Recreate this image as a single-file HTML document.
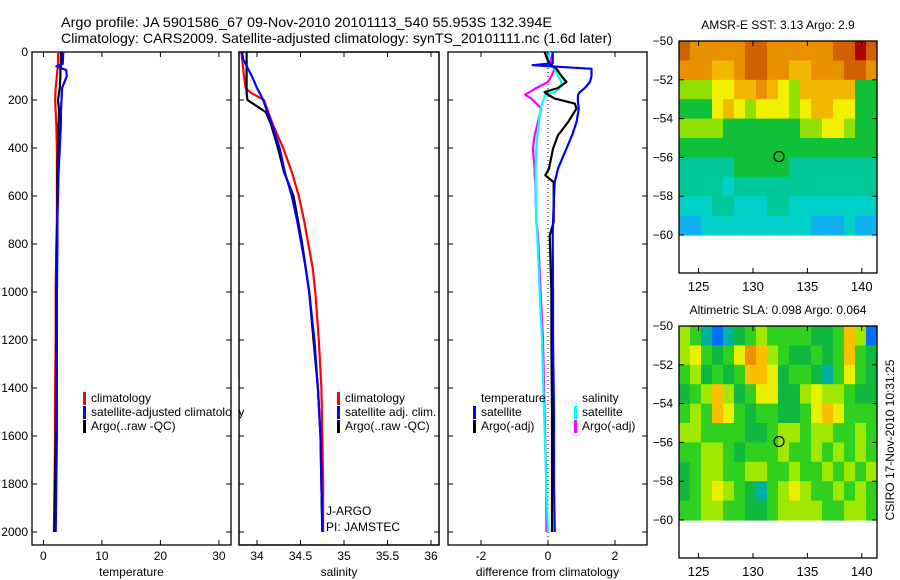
<!DOCTYPE html>
<html><head><meta charset="utf-8"><style>
body{margin:0;background:#fff}
svg{display:block;font-family:"Liberation Sans",sans-serif}
</style></head><body>
<svg id="c" width="900" height="580" viewBox="0 0 900 580">
<text x="61" y="27" font-size="14" textLength="491" lengthAdjust="spacingAndGlyphs">Argo profile: JA 5901586_67 09-Nov-2010 20101113_540 55.953S 132.394E</text>
<text x="61" y="43" font-size="14" textLength="551" lengthAdjust="spacingAndGlyphs">Climatology: CARS2009. Satellite-adjusted climatology: synTS_20101111.nc (1.6d later)</text>
<g id="g"></g>
</svg>
<script>
// ---- data ----
const tDepth=[0,50,60,75,100,150,200,250,300,400,500,600,700,800,1000,1200,1400,1600,1800,2000];
const tClim=[2.5,2.5,2.5,2.4,2.3,2.1,2.0,2.1,2.2,2.3,2.3,2.3,2.3,2.2,2.1,2.1,2.0,2.0,1.9,1.8];
const tSat=[3.4,3.3,2.2,3.9,4.0,3.2,3.1,3.0,3.0,2.8,2.6,2.5,2.4,2.4,2.3,2.3,2.3,2.3,2.2,2.1];
const tArgo=[3.0,3.0,3.0,2.9,2.9,2.8,2.5,2.7,2.6,2.5,2.4,2.4,2.4,2.3,2.2,2.2,2.2,2.1,2.0,1.9];
const sDepth=[0,30,100,150,170,200,250,300,400,500,600,700,800,900,1000,1200,1400,1600,1800,2000];
const sClim=[33.82,33.83,33.85,33.87,33.93,34.08,34.13,34.18,34.30,34.40,34.48,34.54,34.59,34.64,34.67,34.71,34.74,34.75,34.76,34.76];
const sSat=[33.83,33.84,33.94,34.00,34.03,34.07,34.12,34.17,34.26,34.32,34.40,34.46,34.51,34.56,34.60,34.66,34.70,34.73,34.74,34.75];
const sArgo=[33.88,33.88,33.88,33.88,33.88,33.89,34.10,34.16,34.24,34.31,34.42,34.47,34.52,34.56,34.60,34.65,34.70,34.73,34.74,34.75];
const dDepth=[0,47,55,70,100,125,150,167,178,194,215,236,292,347,403,486,514,542,708,764,1000,1200,1500,1800,2000];
const dTSat=[0.14,0.14,-0.46,1.3,1.3,1.25,1.1,0.95,0.9,0.89,0.9,0.92,0.85,0.72,0.55,0.3,0.25,0.2,0.15,0.14,0.15,0.15,0.18,0.18,0.2];
const dTArgo=[-0.1,0.03,0.1,0.25,0.4,0.55,0.3,-0.1,0.0,0.2,0.8,0.85,0.6,0.3,0.15,0.03,-0.08,0.17,0.17,0.05,0.1,0.1,0.12,0.12,0.12];
const dSArgo=[0.15,0.05,0.1,0.2,0.1,0.0,-0.35,-0.55,-0.68,-0.5,-0.35,-0.2,-0.3,-0.4,-0.45,-0.4,-0.4,-0.38,-0.35,-0.3,-0.22,-0.15,-0.1,-0.05,-0.05];
const dSSat=[0.05,-0.02,0.05,0.2,0.3,0.4,0.35,0.2,-0.08,-0.12,-0.18,-0.22,-0.27,-0.32,-0.35,-0.37,-0.37,-0.37,-0.35,-0.32,-0.25,-0.18,-0.12,-0.05,0.0];
const depthTicks=[0,200,400,600,800,1000,1200,1400,1600,1800,2000];
const tTicks=[0,10,20,30];
const sTicks=[34,34.5,35,35.5,36];
const dTicks=[-2,0,2];
const lonTicks=[125,130,135,140];
const latTicks=[-50,-52,-54,-56,-58,-60];
const sstGrid=[
[8,7,7,7,7,7,8,8,7,7,7,7,7,7,8,8,9,8],
[7,7,7,6,6,7,8,8,7,7,6,6,7,7,7,8,8,7],
[4,4,4,5,5,6,6,7,6,5,4,6,6,6,6,6,3,3],
[3,3,3,5,6,5,4,5,5,5,4,5,6,6,5,5,3,3],
[4,4,4,4,3,3,3,3,3,3,3,4,4,5,5,4,3,3],
[3,3,3,3,3,3,3,3,3,3,3,3,3,3,3,3,3,3],
[2,2,2,2,2,3,3,3,3,3,2,2,2,2,2,2,2,2],
[2,2,2,2,1,2,2,2,2,2,2,2,2,2,2,2,2,2],
[1,1,1,2,2,1,1,1,2,2,1,1,1,1,1,1,1,1],
[0,0,1,1,1,1,1,1,1,1,1,1,0,0,0,1,0,0]];
const slaGrid=[
[3,2,0,-1,0,1,2,3,2,2,2,2,1,1,2,5,3,-1],
[3,4,2,1,2,4,6,5,3,2,1,1,2,1,2,5,2,1],
[2,3,1,2,1,2,5,5,4,1,2,2,1,0,2,4,2,1],
[1,2,3,5,3,1,2,4,4,1,1,3,4,3,3,2,1,1],
[2,3,2,5,4,2,1,2,2,1,1,2,4,5,4,2,2,2],
[3,3,2,2,2,2,1,1,2,3,3,2,3,3,2,2,3,2],
[2,2,3,3,2,1,2,2,2,3,2,2,3,2,3,2,3,2],
[1,2,3,3,2,2,3,3,2,2,3,2,2,3,2,3,2,3],
[1,2,3,4,3,2,1,0,2,3,4,3,2,2,3,2,3,2],
[2,2,3,3,2,2,1,1,2,3,3,3,3,2,2,3,3,2]];
const argoLon=132.394, argoLat=-55.953;

const sstColors={"-1":"#0060f0","0":"#10b0f0","1":"#00d0c8","2":"#00c898","3":"#10c038","4":"#90e000","5":"#f0f000","6":"#f0b800","7":"#e89000","8":"#d06000","9":"#b00000"};
const slaColors={"-1":"#0070ff","0":"#00b0a0","1":"#10b840","2":"#30d020","3":"#a0e800","4":"#e8f000","5":"#f8c000","6":"#f09000"};

const NS="http://www.w3.org/2000/svg";
const G=document.getElementById('g');
function mk(tag,at,parent){const e=document.createElementNS(NS,tag);for(const k in at)e.setAttribute(k,at[k]);(parent||G).appendChild(e);return e;}
function txt(s,at){const e=mk('text',Object.assign({'font-size':12},at));e.textContent=s;return e;}

const Y=d=>52+d*0.24;
const panels=[
 {x0:32,x1:231,X:v=>43.4+v*5.85,ticks:tTicks,label:"temperature",name:"temperature-panel"},
 {x0:239,x1:439,X:v=>257+(v-34)*87,ticks:sTicks,label:"salinity",name:"salinity-panel"},
 {x0:448,x1:647,X:v=>548+v*33.5,ticks:dTicks,label:"difference from climatology",name:"difference-panel"}];

panels.forEach((p,i)=>{
 const r=mk('rect',{x:p.x0,y:52,width:p.x1-p.x0,height:493,fill:'#fff',stroke:'#000','stroke-width':1.3});
 
 
 p.ticks.forEach(t=>{const x=p.X(t);
  mk('line',{x1:x,x2:x,y1:52,y2:57,stroke:'#000'});mk('line',{x1:x,x2:x,y1:545,y2:540,stroke:'#000'});
  const l=txt(String(t),{x:x,y:560,'text-anchor':'middle'});
  
  });
 depthTicks.forEach(d=>{mk('line',{x1:p.x0,x2:p.x0+5,y1:Y(d),y2:Y(d),stroke:'#000'});mk('line',{x1:p.x1,x2:p.x1-5,y1:Y(d),y2:Y(d),stroke:'#000'});});
 const xl=txt(p.label,{x:(p.x0+p.x1)/2,y:576,'text-anchor':'middle'});
 
 
});
depthTicks.forEach(d=>{const l=txt(String(d),{x:28,y:Y(d)+4,'text-anchor':'end'});
 
 });

function line(depths,vals,X,col,name){
 const pts=[];for(let i=0;i<depths.length;i++){
  pts.push(X(vals[i]).toFixed(1)+','+Y(depths[i]).toFixed(1));}
 const e=mk('polyline',{points:pts.join(' '),fill:'none',stroke:col,'stroke-width':2.2,'stroke-linejoin':'round'});
 
 
}
const P=panels;
mk('line',{x1:P[2].X(0),x2:P[2].X(0),y1:52,y2:545,stroke:'#000','stroke-dasharray':'1,3'});
line(tDepth,tClim,P[0].X,'#f00','temp-climatology-line');
line(tDepth,tArgo,P[0].X,'#000','temp-argo-line');
line(tDepth,tSat,P[0].X,'#00f','temp-satellite-line');
line(sDepth,sClim,P[1].X,'#f00','sal-climatology-line');
line(sDepth,sArgo,P[1].X,'#000','sal-argo-line');
line(sDepth,sSat,P[1].X,'#00f','sal-satellite-line');
line(dDepth,dSArgo,P[2].X,'#f0f','diff-sal-argo-line');
line(dDepth,dSSat,P[2].X,'#0ff','diff-sal-satellite-line');
line(dDepth,dTArgo,P[2].X,'#000','diff-temp-argo-line');
line(dDepth,dTSat,P[2].X,'#00f','diff-temp-satellite-line');

function leg(x,y,col,s,name){
 if(col){mk('rect',{x:x,y:y-10,width:3,height:13,fill:col});}
 const t=txt(s,{x:x+8,y:y});
 
 }
leg(83,402,'#f00','climatology','legend-climatology');
leg(83,416,'#00f','satellite-adjusted climatology','legend-satellite-adjusted');
leg(83,430,'#000','Argo(..raw -QC)','legend-argo');
mk('rect',{x:232,y:380,width:7,height:60,fill:'#fff'});
mk('rect',{x:239,y:52,width:200,height:493,fill:'none',stroke:'#000','stroke-width':1.3});
leg(337,402,'#f00','climatology','legend-sal-climatology');
leg(337,416,'#00f','satellite adj. clim.','legend-sal-satellite');
leg(337,430,'#000','Argo(..raw -QC)','legend-sal-argo');
txt('temperature',{x:481,y:402});
leg(473,416,'#00f','satellite','legend-diff-temp-satellite');
leg(473,430,'#000','Argo(-adj)','legend-diff-temp-argo');
txt('salinity',{x:582,y:402});
leg(574,416,'#0ff','satellite','legend-diff-sal-satellite');
leg(574,430,'#f0f','Argo(-adj)','legend-diff-sal-argo');
txt('J-ARGO',{x:326,y:515});
txt('PI: JAMSTEC',{x:326,y:531});

// ---- maps ----
function map(top,grid,colors,title,name){
 const L=679,R=877,lonMin=123.2,lonMax=141.4;
 const MX=v=>L+(v-lonMin)*(R-L)/(lonMax-lonMin);
 const MY=v=>top+(-50-v)*19.4;
 const bottom=MY(-60)+38;
 const nr=grid.length,nc=grid[0].length;
 grid.forEach((row,r)=>row.forEach((v,c)=>{
  const la0=-50-r*10/nr,la1=-50-(r+1)*10/nr;
  const lo0=lonMin+c*(lonMax-lonMin)/nc,lo1=lonMin+(c+1)*(lonMax-lonMin)/nc;
  const e=mk('rect',{x:MX(lo0).toFixed(1),y:MY(la0).toFixed(1),width:(MX(lo1)-MX(lo0)+0.6).toFixed(1),height:(MY(la1)-MY(la0)+0.6).toFixed(1),fill:colors[String(v)]});
  
  
 }));
 const f=mk('rect',{x:L,y:top,width:R-L,height:bottom-top,fill:'none',stroke:'#000','stroke-width':1.3});
 
 
 lonTicks.forEach(v=>{const x=MX(v);mk('line',{x1:x,x2:x,y1:top,y2:top+5,stroke:'#000'});mk('line',{x1:x,x2:x,y1:bottom,y2:bottom-5,stroke:'#000'});
  const t=txt(String(v),{x:x,y:bottom+18,'text-anchor':'middle','font-size':13});
  
  });
 latTicks.forEach(v=>{const y=MY(v);mk('line',{x1:L,x2:L+5,y1:y,y2:y,stroke:'#000'});mk('line',{x1:R,x2:R-5,y1:y,y2:y,stroke:'#000'});
  const t=txt(String(v).replace('-','\u2212'),{x:673,y:y+4,'text-anchor':'end'});
  
  });
 const c=mk('circle',{cx:MX(argoLon),cy:MY(argoLat),r:5,fill:'none',stroke:'#000','stroke-width':1.2});
 
 
 const tt=txt(title,{x:778,y:top-12,'text-anchor':'middle'});
 
 
}
map(41,sstGrid,sstColors,'AMSR-E SST: 3.13 Argo: 2.9','sst-map');
map(326,slaGrid,slaColors,'Altimetric SLA: 0.098 Argo: 0.064','sla-map');
const cs=txt('CSIRO 17-Nov-2010 10:31:25',{x:0,y:0,'text-anchor':'middle',transform:'translate(894,440) rotate(-90)'});


</script>
</body></html>
